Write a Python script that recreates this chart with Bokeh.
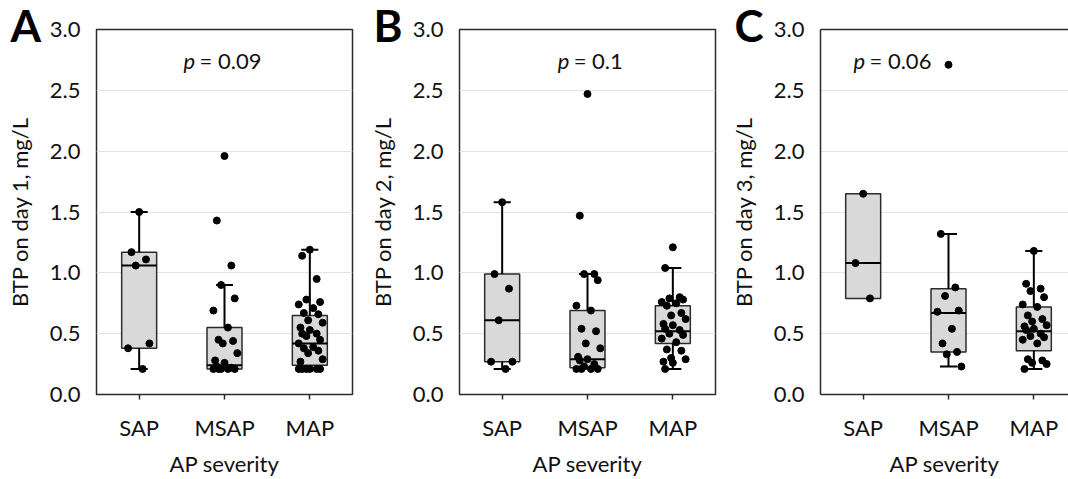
from bokeh.plotting import figure
from bokeh.models import Range1d, FixedTicker, Label, LinearAxis, PrintfTickFormatter
from bokeh.layouts import row
from bokeh.embed import file_html
from bokeh.resources import INLINE

# ---------------- data ----------------
categories = ["SAP", "MSAP", "MAP"]
y_titles = ["BTP on day 1, mg/L", "BTP on day 2, mg/L", "BTP on day 3, mg/L"]
x_title = "AP severity"
panel_letters = ["A", "B", "C"]
p_values = ["0.09", "0.1", "0.06"]
y_ticks = [0.0, 0.5, 1.0, 1.5, 2.0, 2.5, 3.0]

# individual values (mg/L)
day1_sap = [1.50, 1.17, 1.11, 1.06, 0.42, 0.38, 0.21]
day1_msap = [1.96, 1.43, 1.06, 0.90, 0.79, 0.69, 0.55, 0.45, 0.44, 0.42, 0.34,
             0.28, 0.26, 0.23, 0.22, 0.21, 0.21, 0.21, 0.21, 0.21]
day1_map = [1.19, 1.14, 0.95, 0.78, 0.76, 0.74, 0.71, 0.67, 0.66, 0.61, 0.59,
            0.55, 0.53, 0.50, 0.50, 0.48, 0.45, 0.42, 0.39, 0.38, 0.36, 0.34,
            0.29, 0.27, 0.21, 0.21, 0.21, 0.21, 0.21, 0.21]

day2_sap = [1.58, 0.99, 0.87, 0.61, 0.27, 0.27, 0.21]
day2_msap = [2.47, 1.47, 0.99, 0.99, 0.94, 0.73, 0.69, 0.54, 0.52, 0.42, 0.38,
             0.31, 0.29, 0.28, 0.25, 0.23, 0.21, 0.21, 0.21, 0.21]
day2_map = [1.21, 1.04, 0.80, 0.79, 0.78, 0.76, 0.75, 0.73, 0.67, 0.65, 0.62,
            0.58, 0.57, 0.54, 0.53, 0.50, 0.49, 0.46, 0.43, 0.37, 0.36, 0.30,
            0.29, 0.27, 0.26, 0.21]

day3_sap = [1.65, 1.08, 0.79]
day3_msap = [2.71, 1.32, 0.88, 0.81, 0.69, 0.68, 0.54, 0.42, 0.35, 0.33, 0.23]
day3_map = [1.18, 0.91, 0.87, 0.85, 0.80, 0.74, 0.72, 0.65, 0.62, 0.60, 0.57,
            0.56, 0.54, 0.53, 0.50, 0.48, 0.47, 0.45, 0.42, 0.29, 0.28, 0.26,
            0.25, 0.21]

# box statistics per category (SAP, MSAP, MAP)
day1_q1 = [0.38, 0.21, 0.24]
day1_med = [1.06, 0.24, 0.42]
day1_q3 = [1.17, 0.55, 0.65]
day1_lo = [0.21, 0.21, 0.21]
day1_hi = [1.50, 0.90, 1.19]

day2_q1 = [0.27, 0.22, 0.42]
day2_med = [0.61, 0.29, 0.52]
day2_q3 = [0.99, 0.69, 0.73]
day2_lo = [0.21, 0.22, 0.21]
day2_hi = [1.58, 0.99, 1.04]

day3_q1 = [0.79, 0.35, 0.36]
day3_med = [1.08, 0.67, 0.52]
day3_q3 = [1.65, 0.87, 0.72]
day3_lo = [0.79, 0.23, 0.21]
day3_hi = [1.65, 1.32, 1.18]

# ---------------- style ----------------
FONT = "Lato"
TXT = "#111111"
FRAME = "#2b2b2b"
JITTER = [0.0, -0.09, 0.08, -0.04, 0.12, -0.13, 0.04, -0.07, 0.10, -0.02, 0.15, -0.11]
BOX_W = 0.41
CAP_W = 0.20
PX_PER_CAT = 256 / 3.0


def make_panel(idx, groups, q1, med, q3, lo, hi, width, left, right_border, x_end, p_x):
    p = figure(width=width, height=479, output_backend="svg", toolbar_location=None,
               x_range=Range1d(0, x_end), y_range=Range1d(0, 3),
               min_border_left=left, min_border_right=right_border,
               min_border_top=29, min_border_bottom=85)
    p.background_fill_color = "white"
    p.border_fill_color = "white"

    # panel letter as title
    p.title.text = panel_letters[idx]
    p.title.align = "left"
    p.title.offset = -86
    p.title.vertical_align = "middle"
    p.title.standoff = -45
    p.title.text_font = FONT
    p.title.text_font_style = "bold"
    p.title.text_font_size = "44px"
    p.title.text_color = "black"

    # grid
    p.xgrid.grid_line_color = None
    p.ygrid.ticker = FixedTicker(ticks=y_ticks[1:-1])
    p.ygrid.grid_line_color = "#e3e3e3"
    p.ygrid.grid_line_width = 1

    # axes
    xa = p.xaxis[0]
    xa.ticker = FixedTicker(ticks=[i + 0.5 for i in range(len(categories))])
    xa.major_label_overrides = {i + 0.5: c for i, c in enumerate(categories)}
    xa.minor_tick_line_color = None
    xa.major_tick_out = 5
    xa.major_tick_in = 0
    xa.major_tick_line_width = 1.5
    xa.major_tick_line_color = FRAME
    xa.major_label_standoff = 14
    xa.major_label_text_font = FONT
    xa.major_label_text_font_size = "22px"
    xa.major_label_text_color = TXT
    xa.axis_label = x_title
    xa.axis_label_text_font = FONT
    xa.axis_label_text_font_size = "22px"
    xa.axis_label_text_font_style = "normal"
    xa.axis_label_text_color = TXT
    xa.axis_label_standoff = 6

    ya = p.yaxis[0]
    ya.ticker = FixedTicker(ticks=y_ticks)
    ya.formatter = PrintfTickFormatter(format="%.1f")
    ya.minor_tick_line_color = None
    ya.major_tick_out = 0
    ya.major_tick_in = 0
    ya.major_label_standoff = 16
    ya.major_label_text_font = FONT
    ya.major_label_text_font_size = "22px"
    ya.major_label_text_color = TXT
    ya.axis_label = y_titles[idx]
    ya.axis_label_text_font = FONT
    ya.axis_label_text_font_size = "22px"
    ya.axis_label_text_font_style = "normal"
    ya.axis_label_text_color = TXT
    ya.axis_label_standoff = 14

    if idx < 2:
        p.outline_line_color = FRAME
        p.outline_line_width = 1.5
        xa.axis_line_color = None
        ya.axis_line_color = None
    else:
        p.outline_line_color = None
        xa.axis_line_color = FRAME
        xa.axis_line_width = 1.5
        ya.axis_line_color = FRAME
        ya.axis_line_width = 1.5
        top = LinearAxis(ticker=FixedTicker(ticks=[]), major_label_text_font_size="0px",
                         major_tick_line_color=None, minor_tick_line_color=None,
                         axis_line_color=FRAME, axis_line_width=1.5)
        p.add_layout(top, "above")

    xs = [i + 0.5 for i in range(len(categories))]

    # boxes
    p.vbar(x=xs, bottom=q1, top=q3, width=BOX_W, fill_color="#d9d9d9",
           line_color=FRAME, line_width=1.5)
    p.segment(x0=[x - BOX_W / 2 for x in xs], x1=[x + BOX_W / 2 for x in xs],
              y0=med, y1=med, line_color="black", line_width=2)

    # whiskers and caps
    wx, wy0, wy1, cx0, cx1, cy = [], [], [], [], [], []
    for x, a, b in zip(xs, q3, hi):
        if b > a:
            wx.append(x); wy0.append(a); wy1.append(b)
            cx0.append(x - CAP_W / 2); cx1.append(x + CAP_W / 2); cy.append(b)
    for x, a, b in zip(xs, q1, lo):
        if b < a:
            wx.append(x); wy0.append(a); wy1.append(b)
            cx0.append(x - CAP_W / 2); cx1.append(x + CAP_W / 2); cy.append(b)
    p.segment(x0=wx, x1=wx, y0=wy0, y1=wy1, line_color="black", line_width=2)
    p.segment(x0=cx0, x1=cx1, y0=cy, y1=cy, line_color="black", line_width=2)

    # points
    px, py = [], []
    for gi, vals in enumerate(groups):
        for k, v in enumerate(vals):
            px.append(xs[gi] + JITTER[k % len(JITTER)])
            py.append(v)
    p.scatter(x=px, y=py, size=7, marker="circle", fill_color="black", line_color="black")

    # p-value
    p.add_layout(Label(x=p_x, y=2.745, text="p", text_font=FONT, text_font_style="italic",
                       text_font_size="22px", text_color=TXT, text_baseline="alphabetic"))
    p.add_layout(Label(x=p_x, y=2.745, x_offset=16, text="= " + p_values[idx], text_font=FONT,
                       text_font_size="22px", text_color=TXT, text_baseline="alphabetic"))
    return p


pa = make_panel(0, [day1_sap, day1_msap, day1_map], day1_q1, day1_med, day1_q3, day1_lo, day1_hi,
                363, 96, 11, 3.0, 1.02)
pb = make_panel(1, [day2_sap, day2_msap, day2_map], day2_q1, day2_med, day2_q3, day2_lo, day2_hi,
                362, 96, 10, 3.0, 1.15)
pc = make_panel(2, [day3_sap, day3_msap, day3_map], day3_q1, day3_med, day3_q3, day3_lo, day3_hi,
                343, 95, 0, 248 / PX_PER_CAT, 0.387)

layout = row(pa, pb, pc)
open("out.html", "w").write(file_html(layout, INLINE))
